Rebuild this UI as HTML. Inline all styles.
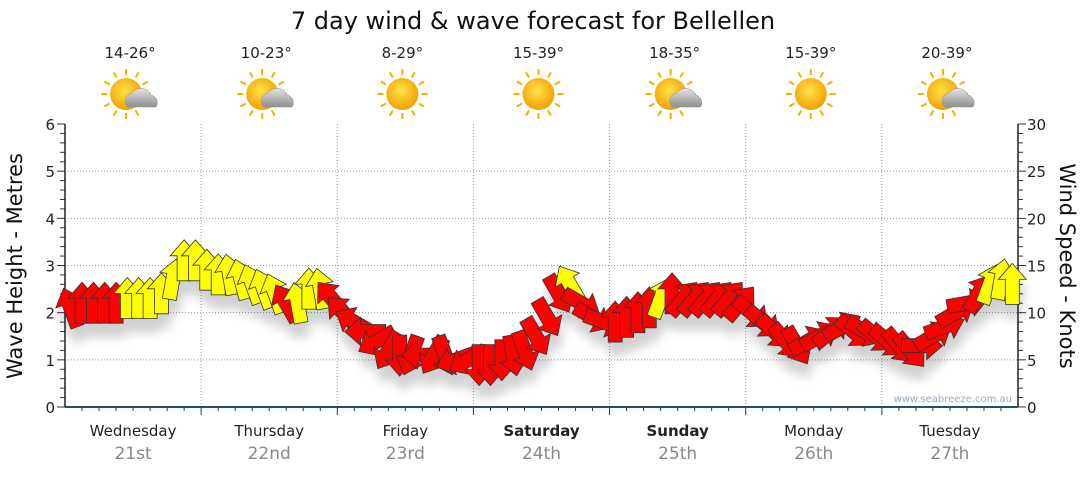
<!DOCTYPE html>
<html><head><meta charset="utf-8">
<style>
body{margin:0;background:#fff;font-family:"Liberation Sans","DejaVu Sans",sans-serif;}
svg text{font-family:"DejaVu Sans","Liberation Sans",sans-serif;}
</style></head>
<body>
<svg id="c" width="1080" height="475" xmlns="http://www.w3.org/2000/svg">
<defs>
<filter id="sh" x="-50%" y="-50%" width="200%" height="250%">
<feGaussianBlur in="SourceAlpha" stdDeviation="5"/>
<feOffset dx="2" dy="14"/>
<feComponentTransfer><feFuncA type="linear" slope="0.18"/></feComponentTransfer>
<feMerge><feMergeNode/><feMergeNode in="SourceGraphic"/></feMerge>
</filter>
<radialGradient id="sun" cx="45%" cy="40%" r="60%"><stop offset="0" stop-color="#ffe24a"/><stop offset="1" stop-color="#f0a000"/></radialGradient>
<linearGradient id="cloud" x1="0" y1="0" x2="0" y2="1"><stop offset="0" stop-color="#e4e4e4"/><stop offset="1" stop-color="#8f8f8f"/></linearGradient>
</defs>
<text x="533" y="29" text-anchor="middle" font-size="24" fill="#111">7 day wind &amp; wave forecast for Bellellen</text>
<g id="grid"></g>
<g id="icons"></g>
<g id="axes"></g>
<g id="arrows" filter="url(#sh)"></g>
<text x="1012" y="402" text-anchor="end" font-size="10" fill="#9ab">www.seabreeze.com.au</text>
<text transform="translate(22,266) rotate(-90)" text-anchor="middle" font-size="21" fill="#111">Wave Height - Metres</text>
<text transform="translate(1060,266) rotate(90)" text-anchor="middle" font-size="21" fill="#111">Wind Speed - Knots</text>
</svg>
<script>
const days=["Wednesday","Thursday","Friday","Saturday","Sunday","Monday","Tuesday"];
const dates=["21st","22nd","23rd","24th","25th","26th","27th"];
const temps=["14-26°","10-23°","8-29°","15-39°","18-35°","15-39°","20-39°"];
const weather=["cloud","cloud","sun","sun","cloud","sun","cloud"];
const waveTicks=[0,1,2,3,4,5,6];
const knotTicks=[0,5,10,15,20,25,30];
const windSpeed=[10.5,11,11,11,11,11.5,11.5,11.5,12,13.5,15.5,15.5,
14.5,14,14,13.5,13,12.5,12,11,11,12.5,12.5,11.5,
10,9,8,7,6,5.5,5.5,5.5,5.5,5.5,5,5,
4.5,4.5,5,5.5,6,7.5,9.5,12,13,11,9.5,9,
9,9.5,10,10.5,11.5,12,11.5,11.5,11.5,11.5,11.5,11,
10,9,8,7,6.5,7,7.5,8,8.5,8,8,7.5,
7,6.5,6,6.5,7.5,8.5,10,11,12,13,13.5,13];
const windDir=[-20,0,0,0,0,0,0,0,0,10,0,0,
0,0,-10,-15,-20,-20,-20,-30,-10,0,-10,-40,
-45,-60,-90,-120,-150,-180,-160,-90,-150,-200,-110,-120,
180,180,180,170,160,150,150,150,-30,120,120,110,
0,0,0,0,20,0,40,40,40,40,40,40,
130,130,135,140,150,60,60,50,60,130,120,130,
130,140,140,90,60,70,60,80,30,20,10,0];
const windColor=["r","r","r","r","r","y","y","y","y","y","y","y",
"y","y","y","y","y","y","y","r","y","y","y","r",
"r","r","r","r","r","r","r","r","r","r","r","r",
"r","r","r","r","r","r","r","r","y","r","r","r",
"r","r","r","r","y","r","r","r","r","r","r","r",
"r","r","r","r","r","r","r","r","r","r","r","r",
"r","r","r","r","r","r","r","r","r","y","y","y"];
const NS="http://www.w3.org/2000/svg";
const L=65,R=1018,T=124,B=407;
const dayW=(R-L)/7;
const yW=v=>B-(v/6)*(B-T);
const yK=v=>B-(v/30)*(B-T);
const xT=t=>L+t*dayW;
function mk(tag,attrs,parent,txt){const e=document.createElementNS(NS,tag);for(const k in attrs)e.setAttribute(k,attrs[k]);if(txt!==undefined)e.textContent=txt;parent.appendChild(e);return e;}
const grid=document.getElementById('grid'),axes=document.getElementById('axes'),icons=document.getElementById('icons'),arrows=document.getElementById('arrows');
waveTicks.forEach((v,i)=>{
 if(v>0&&v<6){const g=mk('line',{x1:L,x2:R,y1:yW(v),y2:yW(v),stroke:'#999','stroke-dasharray':'1,2'},grid);
 }
 const t=mk('text',{x:L-10,y:yW(v)+6,'text-anchor':'end','font-size':15,fill:'#222'},axes,v);
 
});
knotTicks.forEach(v=>{
 const t=mk('text',{x:R+9,y:yK(v)+6,'font-size':15,fill:'#222'},axes,v);
 
});
for(let v=0;v<=6.001;v+=0.2){const y=yW(v);const big=Math.abs(v-Math.round(v))<0.01;
 mk('line',{x1:L-(big?8:5),x2:L,y1:y,y2:y,stroke:'#333'},axes);}
for(let v=0;v<=30;v+=1){const y=yK(v);mk('line',{x1:R,x2:R+(v%5==0?8:5),y1:y,y2:y,stroke:'#333'},axes);}
for(let d=0;d<7;d++){
 if(d>0){const g=mk('line',{x1:xT(d),x2:xT(d),y1:T,y2:B,stroke:'#999','stroke-dasharray':'1,2'},grid);
 
 mk('line',{x1:xT(d),x2:xT(d),y1:B,y2:B+8,stroke:'#333'},axes);}
 for(let h=1;h<8;h++){const x=xT(d+h/8);mk('line',{x1:x,x2:x,y1:B,y2:B+4,stroke:'#333'},axes);}
 const cx=xT(d+0.5);
 const dl=mk('text',{x:cx,y:436,'text-anchor':'middle','font-size':15,fill:'#222','font-weight':(d==3||d==4)?'bold':'normal'},axes,days[d]);
 
 const dt=mk('text',{x:cx,y:459,'text-anchor':'middle','font-size':17,fill:'#888'},axes,dates[d]);
 
 const tt=mk('text',{x:cx-3,y:58,'text-anchor':'middle','font-size':15,fill:'#222'},icons,temps[d]);
 
 const g=mk('g',{transform:`translate(${cx-3},95)`},icons);
 
 const sx=weather[d]=='cloud'?-4:0;
 for(let k=0;k<12;k++){const a=k*Math.PI/6;mk('line',{x1:sx+Math.cos(a)*19,y1:Math.sin(a)*19-1,x2:sx+Math.cos(a)*25,y2:Math.sin(a)*25-1,stroke:'#f2b000','stroke-width':2},g);}
 mk('circle',{cx:sx,cy:-1,r:16,fill:'url(#sun)'},g);
 if(weather[d]=='cloud'){mk('path',{d:'M-2,12 a8,8 0 0 1 4,-14 a11,11 0 0 1 19,2 a8,8 0 0 1 5,12 z',fill:'url(#cloud)',stroke:'#888','stroke-width':0.5},g);}
}
mk('line',{x1:L,x2:L,y1:T,y2:B,stroke:'#222','stroke-width':1.5},axes);
mk('line',{x1:R,x2:R,y1:T,y2:B,stroke:'#222','stroke-width':1.5},axes);
mk('line',{x1:L,x2:R,y1:B,y2:B,stroke:'#1c4f7a','stroke-width':2},axes);
const perDay=12;
const arrowPath='M0,-21 L14,-5 L7,-5 L7,20 L-7,20 L-7,-5 L-14,-5 Z';
windSpeed.forEach((v,i)=>{
 const x=xT((i+0.5)/perDay),y=yK(v);
 const p=mk('path',{d:arrowPath,transform:`translate(${x.toFixed(1)},${y.toFixed(1)}) rotate(${windDir[i]})`,fill:windColor[i]=='y'?'#ffff00':'#ff0000',stroke:'#333','stroke-width':0.8,'stroke-linejoin':'miter'},arrows);
 
 
});
</script>
</body></html>
